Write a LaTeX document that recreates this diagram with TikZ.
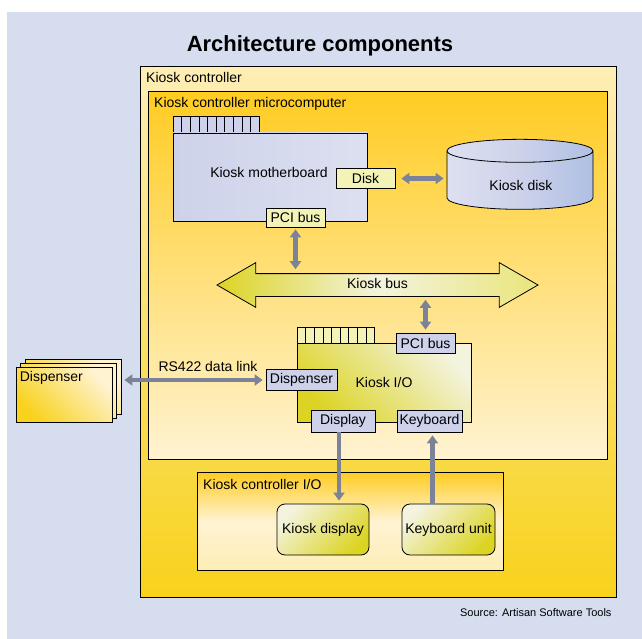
\documentclass[tikz,border=0pt]{standalone}
\usepackage{fontspec}
\setmainfont{Liberation Sans}
\usetikzlibrary{arrows.meta,shapes.geometric,shapes.arrows}
\definecolor{bgblue}{HTML}{D5DDEF}
\definecolor{paleyel}{HTML}{FDEEB6}
\definecolor{deepyel}{HTML}{F8D21C}
\definecolor{sunyel}{HTML}{FFCC22}
\definecolor{creamyel}{HTML}{FFF3D2}
\definecolor{lav}{HTML}{CDD2EA}
\definecolor{lavlight}{HTML}{DDE0F0}
\definecolor{diskblue}{HTML}{AFBFE3}
\definecolor{portyel}{HTML}{F3F3B8}
\definecolor{olive}{HTML}{DCD424}
\definecolor{olivepale}{HTML}{F3F3DE}
\definecolor{arrowgray}{HTML}{7C8398}
\tikzset{> = {Triangle[length=8pt,width=11pt]}}
\tikzset{
  box/.style = {draw, line width=0.8pt, anchor=north west, inner sep=0pt},
  boxlabel/.style = {anchor=north west, inner xsep=6pt, inner ysep=6.5pt},
  port/.style = {draw, line width=0.7pt, minimum height=20pt, inner sep=1pt},
  slot/.style = {draw, line width=0.6pt},
  unit/.style = {draw, line width=0.8pt, rounded corners=8pt, minimum width=92pt,
    minimum height=51pt, left color=olivepale, right color=olive, shading angle=45},
  link/.style = {<->, line width=4.5pt, draw=arrowgray, shorten <=3pt, shorten >=3pt},
  flow/.style = {->, line width=4.5pt, draw=arrowgray, shorten >=3pt}
}

\begin{document}
\begin{tikzpicture}[x=1pt, y=-1pt, font=\fontsize{14}{16}\selectfont]
\useasboundingbox (0,0) rectangle (642,639);
\fill[bgblue] (7,12) rectangle (642,639);
\node[font=\fontsize{22}{25}\selectfont\bfseries] (T) at (320,46) {Architecture components};

% frames
\node[box, minimum width=476pt, minimum height=531pt, top color=paleyel, bottom color=deepyel] (KC) at (140,66) {};
\node[boxlabel] (KCl) at (KC.north west) {Kiosk controller};
\node[box, minimum width=459pt, minimum height=368pt, top color=sunyel, bottom color=creamyel] (KM) at (148,91) {};
\node[boxlabel] (KMl) at (KM.north west) {Kiosk controller microcomputer};

% motherboard
\foreach \i in {0,...,9}
  \draw[slot, fill=lav] ({173+8.6*\i},116) rectangle ++(8.6,17);
\node[draw, line width=0.8pt, minimum width=194pt, minimum height=88pt, left color=lav, right color=lavlight] (MB) at (270,177) {};
\node (MBl) at (269,172) {Kiosk motherboard};
\node[port, fill=portyel, minimum width=59pt] (DK) at (365.5,178.5) {Disk};
\node[port, fill=portyel, minimum width=59pt, minimum height=19pt] (PM) at (295.5,217.5) {PCI bus};

% disk
\node[cylinder, shape border rotate=90, draw, line width=0.8pt, aspect=0.33,
  minimum width=146pt, minimum height=70pt,
  left color=lavlight, right color=diskblue, middle color=lav] (CY) at (520,182) {\phantom{Kiosk disk}};
\node (CYl) at (521,185) {Kiosk disk};

% bus
\node[double arrow, draw, line width=0.8pt, minimum height=321pt, double arrow head extend=11pt,
  double arrow tip angle=60, text height=10pt, text depth=3pt, inner ysep=4.5pt,
  left color=olive, right color=olive!60!white, middle color=olivepale] (KB) at (377.5,285) {Kiosk bus};

% kiosk I/O
\foreach \i in {0,...,8}
  \draw[slot, fill=portyel] ({297+8.6*\i},327) rectangle ++(8.6,16);
\node[draw, line width=0.8pt, minimum width=174pt, minimum height=79pt, left color=olive, right color=olivepale, shading angle=135] (IO) at (384,382.5) {Kiosk I/O};
\node[port, fill=lav, minimum width=59pt] (PI) at (425.5,343) {PCI bus};
\node[port, fill=lav, minimum width=71pt, minimum height=21pt] (DP) at (301.5,380) {Dispenser};
\node[port, fill=lav, minimum width=64pt, minimum height=22pt] (DS) at (343,421) {Display};
\node[port, fill=lav, minimum width=65pt, minimum height=22pt] (KP) at (429.5,421) {Keyboard};

% dispenser stack
\foreach \d in {2,1,0}
  \node[draw, line width=0.8pt, minimum width=96pt, minimum height=55pt, left color=deepyel, right color=creamyel, shading angle=135] (D\d) at ({64+4.5*\d},{394.5-4*\d}) {};
\node[boxlabel, inner ysep=5pt, inner xsep=4pt] (Dl) at (D0.north west) {Dispenser};

% controller I/O
\node[box, minimum width=306pt, minimum height=98pt, top color=sunyel, bottom color=paleyel, middle color=creamyel] (CI) at (197,472) {};
\node[boxlabel, inner ysep=7.5pt] (CIl) at (CI.north west) {Kiosk controller I/O};
\node[unit] (KD) at (323,529.5) {Kiosk display};
\node[unit, minimum width=93pt] (KU) at (448.5,529.5) {Keyboard unit};

% edges
\draw[link, shorten <=6pt] (DK.east) -- (DK.east -| CY.west);
\draw[link, shorten <=2pt, shorten >=4pt] (PM.south) -- (PM.south |- KB.north);
\draw[link] (PI.north |- KB.south) -- (PI.north);
\draw[link] (DP.west) -- node[pos=0.4, above=3pt] {RS422 data link} (DP.west -| D2.east);
\draw[flow] ([xshift=-4pt]DS.south) -- ([xshift=-4pt]DS.south |- KD.north);
\draw[flow] ([xshift=3pt]KP.south |- KU.north) -- ([xshift=3pt]KP.south);

\node[anchor=base east, font=\fontsize{11}{13}\selectfont] (S) at (615,616) {Source: Artisan Software Tools};
\end{tikzpicture}
\end{document}
